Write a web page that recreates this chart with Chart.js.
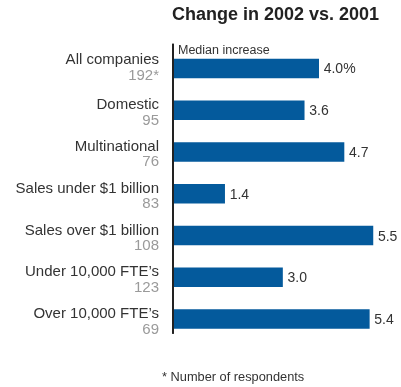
<!DOCTYPE html>
<html>
<head>
<meta charset="utf-8">
<script src="https://cdn.jsdelivr.net/npm/chart.js@4/dist/chart.umd.min.js"></script>
<style>
  html, body { margin: 0; padding: 0; background: #fff; }
  #wrap { width: 401px; height: 387px; }
</style>
</head>
<body>
<div id="wrap"><canvas id="myChart"></canvas></div>
<script>
const categories = [
    'All companies', 'Domestic', 'Multinational', 'Sales under $1 billion',
    'Sales over $1 billion', 'Under 10,000 FTE\u2019s', 'Over 10,000 FTE\u2019s'
];
const respondents = ['192*', '95', '76', '83', '108', '123', '69'];
const medianIncrease = [4.0, 3.6, 4.7, 1.4, 5.5, 3.0, 5.4];

const BLUE = '#045a9c';
const DARK = '#333333';
const GREY = '#9a9a9a';
const FONT = '"Liberation Sans", Arial, sans-serif';

// labels, axis line and notes are painted by hand around the chart area
const decorations = {
    id: 'decorations',
    afterDatasetsDraw(chart) {
        const c = chart.ctx;
        const area = chart.chartArea;
        const y = chart.scales.y;
        const bars = chart.getDatasetMeta(0).data;

        c.save();
        // vertical axis rule
        c.fillStyle = '#222';
        c.fillRect(area.left - 2, area.top - 4, 2, area.bottom - area.top - 2);

        // category names and respondent counts
        c.textAlign = 'right';
        c.textBaseline = 'alphabetic';
        categories.forEach((name, i) => {
            const cy = y.getPixelForValue(i) - (i === 0 ? 3 : 0);
            c.font = '15px ' + FONT;
            c.fillStyle = DARK;
            c.fillText(name, area.left - 15, cy - 1);
            c.fillStyle = GREY;
            c.fillText(respondents[i], area.left - 15, cy + 14.5);
        });

        // value labels at bar ends
        c.textAlign = 'left';
        c.font = '14px ' + FONT;
        c.fillStyle = DARK;
        bars.forEach((bar, i) => {
            const v = medianIncrease[i].toFixed(1) + (i === 0 ? '%' : '');
            c.fillText(v, bar.x + 5, bar.y + 5);
        });

        // title, series note, footnote
        c.font = 'bold 18px ' + FONT;
        c.fillStyle = '#222';
        c.fillText('Change in 2002 vs. 2001', area.left - 2, 20);
        c.font = '12.5px ' + FONT;
        c.fillStyle = DARK;
        c.fillText('Median increase', area.left + 4, 53.5);
        c.font = '12.8px ' + FONT;
        c.fillText('* Number of respondents', 162, 380.5);
        c.restore();
    }
};

const ctx = document.getElementById('myChart').getContext('2d');

const myChart = new Chart(ctx, {
    type: 'bar',
    data: {
        labels: categories,
        datasets: [{
            label: 'Median increase',
            data: medianIncrease,
            backgroundColor: BLUE,
            borderWidth: 0,
            barThickness: 19
        }]
    },
    options: {
        indexAxis: 'y',
        responsive: true,
        maintainAspectRatio: false,
        animation: false,
        layout: {
            padding: { left: 174, right: 10, top: 47.6, bottom: 47.1 }
        },
        plugins: {
            legend: { display: false },
            tooltip: { enabled: false }
        },
        scales: {
            x: { display: false, min: 0, max: 6 },
            y: { display: false }
        }
    },
    plugins: [decorations]
});
</script>
</body>
</html>
